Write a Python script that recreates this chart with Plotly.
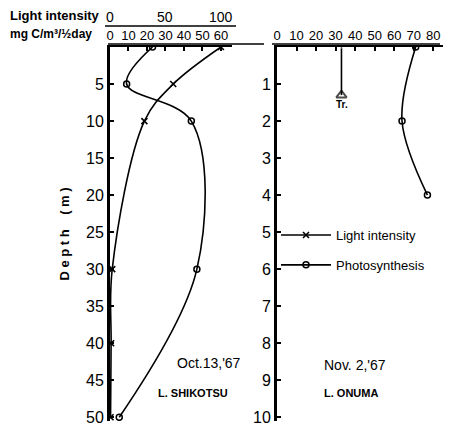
import plotly.graph_objects as go

# ---- data ----
shik_depth = [0, 5, 10, 30, 50]
shik_photo = [23, 9, 44, 47, 5]          # mg C/m3/half day
shik_light_depth = [0, 5, 10, 30, 40, 50]
shik_light = [100, 57, 31, 2, 1, 0.5]    # light intensity (%)

onuma_depth = [0, 2, 4]
onuma_photo = [71, 64, 77]
onuma_tr_depth = [0, 1.3]
onuma_tr_x = [33, 33]

left_ticks = [0, 10, 20, 30, 40, 50, 60]
right_ticks = [0, 10, 20, 30, 40, 50, 60, 70, 80]
light_ticks = [0, 50, 100]
left_depth_ticks = [5, 10, 15, 20, 25, 30, 35, 40, 45, 50]
right_depth_ticks = [1, 2, 3, 4, 5, 6, 7, 8, 9, 10]

FONT = "Liberation Sans"
NARROW = "Liberation Sans Narrow, Liberation Sans"
OFF = 8                      # page body margin of the browser
W, H = 451 - OFF, 425 - OFF
SX0, SX1, SY0, SY1 = 110, 445, 47, 421   # plot area in screen pixels
ML, MT = SX0 - OFF, SY0 - OFF
MR, MB = W - (SX1 - OFF), H - (SY1 - OFF)

def px(x):
    return (x - SX0) / (SX1 - SX0)

def py(y):
    return 1 - (y - SY0) / (SY1 - SY0)

fig = go.Figure()

fig.add_trace(go.Scatter(x=shik_light, y=shik_light_depth, xaxis="x3", yaxis="y",
                         mode="lines+markers", line=dict(color="black", width=1.6, shape="spline"),
                         marker=dict(symbol="x-thin-open", size=6, line=dict(color="black", width=1.6)),
                         name="Light intensity", legendgroup="a"))
fig.add_trace(go.Scatter(x=shik_photo, y=shik_depth, xaxis="x", yaxis="y",
                         mode="lines+markers", line=dict(color="black", width=1.6, shape="spline", smoothing=1.0),
                         marker=dict(symbol="circle-open", size=6, color="black", line=dict(width=1.5)),
                         name="Photosynthesis", legendgroup="b"))
fig.add_trace(go.Scatter(x=onuma_photo, y=onuma_depth, xaxis="x2", yaxis="y2",
                         mode="lines+markers", line=dict(color="black", width=1.6, shape="spline"),
                         marker=dict(symbol="circle-open", size=6, color="black", line=dict(width=1.5)),
                         showlegend=False))
fig.add_trace(go.Scatter(x=onuma_tr_x, y=onuma_tr_depth, xaxis="x2", yaxis="y2",
                         mode="lines+markers", line=dict(color="black", width=1.6),
                         marker=dict(symbol=["circle", "triangle-up-open"], size=[1, 9], color="black",
                                     line=dict(width=2)),
                         showlegend=False))

x0l, x1l = px(110), px(232)
x0r, x1r = px(277), px(445)
axis_common = dict(side="top", showline=True, linecolor="black", linewidth=2,
                   ticks="inside", ticklen=4, tickwidth=1.5, tickcolor="black",
                   showgrid=False, zeroline=False, automargin=False,
                   tickfont=dict(family=FONT, size=13, color="black"))
yaxis_common = dict(showline=True, linecolor="black", linewidth=3, ticks="inside", ticklen=4,
                    tickwidth=1.5, tickcolor="black", showgrid=False, zeroline=False,
                    automargin=False, ticklabeloverflow="allow",
                    tickfont=dict(family=FONT, size=16, color="black"))
fig.update_layout(
    width=W, height=H,
    margin=dict(l=ML, r=MR, t=MT, b=MB),
    paper_bgcolor="white", plot_bgcolor="white",
    xaxis=dict(domain=[x0l, x1l], range=[0, 66], tickvals=left_ticks, anchor="y", **axis_common),
    xaxis3=dict(domain=[x0l, x1l], range=[0, 110], overlaying="x", visible=False, anchor="y",
                automargin=False),
    xaxis2=dict(domain=[x0r, x1r], range=[0, 86], tickvals=right_ticks, anchor="y2", **axis_common),
    yaxis=dict(domain=[0, 1], range=[50.5, 0], tickvals=left_depth_ticks, anchor="x",
               title=dict(text="<b>D e p t h    ( m )</b>", standoff=14,
                          font=dict(family=FONT, size=13, color="black")),
               **yaxis_common),
    yaxis2=dict(domain=[0, 1], range=[10.1, 0], tickvals=right_depth_ticks, anchor="x2",
                **yaxis_common),
    legend=dict(x=px(276), y=py(220), xanchor="left", yanchor="top",
                font=dict(family=FONT, size=13, color="black"),
                bgcolor="rgba(0,0,0,0)", tracegroupgap=10, itemwidth=50),
    showlegend=True,
)

# light intensity scale labels
for v in light_ticks:
    fig.add_annotation(x=v, y=py(17), xref="x3", yref="paper", text=str(v), showarrow=False,
                       yanchor="middle", font=dict(family=FONT, size=14, color="black"))

fig.add_shape(type="line", xref="paper", yref="paper", x0=px(105), x1=px(236), y0=py(26), y1=py(26),
              line=dict(color="black", width=1.5))
fig.add_shape(type="line", xref="paper", yref="paper", x0=px(108), x1=px(264), y0=py(44), y1=py(44),
              line=dict(color="black", width=1.5))
fig.add_shape(type="line", xref="paper", yref="paper", x0=px(272), x1=px(440), y0=py(44), y1=py(44),
              line=dict(color="black", width=1.5))

def txt(x, y, s, size=13, anchor="left", family=FONT):
    fig.add_annotation(x=px(x), y=py(y), xref="paper", yref="paper", text=s, showarrow=False,
                       xanchor=anchor, yanchor="middle", font=dict(family=family, size=size, color="black"))

txt(8, 16, "<b>Light intensity</b>", 13, family=NARROW)
txt(8, 34, "<b>mg C/m³/½day</b>", 12, family=NARROW)
txt(175, 363, "Oct.13,'67", 14)
txt(156, 393, "<b>L. SHIKOTSU</b>", 11)
txt(322, 365, "Nov. 2,'67", 14)
txt(322, 393, "<b>L. ONUMA</b>", 11)
txt(334, 105, "<b>Tr.</b>", 10)

fig.write_html("out.html")
